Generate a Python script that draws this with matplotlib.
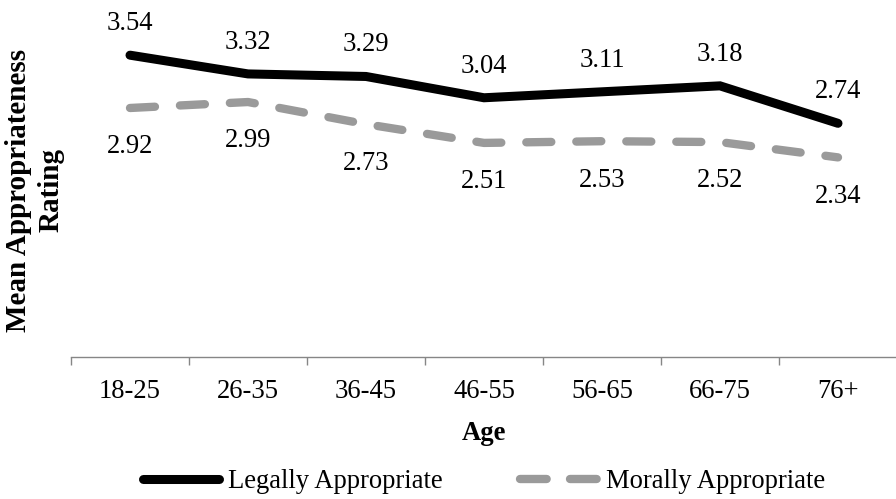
import matplotlib
matplotlib.use("Agg")
import matplotlib.pyplot as plt
from matplotlib.lines import Line2D

categories = ["18-25", "26-35", "36-45", "46-55", "56-65", "66-75", "76+"]
legally = [3.54, 3.32, 3.29, 3.04, 3.11, 3.18, 2.74]
morally = [2.92, 2.99, 2.73, 2.51, 2.53, 2.52, 2.34]
series_names = ["Legally Appropriate", "Morally Appropriate"]

plt.rcParams['font.family'] = ['Liberation Serif', 'DejaVu Serif']
FS = 19.2
GRAY = '#9a9a9a'

fig = plt.figure(figsize=(8.96, 4.99), dpi=100)
W, H = 896, 499
ax_left, ax_right = 71 / W, 897 / W
ax_bottom = (H - 356.7) / H
ax_top = (H - 16) / H
ax = fig.add_axes([ax_left, ax_bottom, ax_right - ax_left, ax_top - ax_bottom])

x = list(range(len(categories)))
l1, = ax.plot(x, legally, color='black', lw=6.5, solid_capstyle='round',
              solid_joinstyle='miter', clip_on=False)
l2, = ax.plot(x, morally, color=GRAY, lw=6, dash_capstyle='round',
              dash_joinstyle='round', clip_on=False)
l2.set_dashes((3.0, 3.0))

for xi, v in zip(x, legally):
    ax.annotate(f"{v:.2f}", (xi, v), xytext=(0, 18), textcoords='offset points',
                ha='center', va='baseline', fontsize=FS)
for xi, v in zip(x, morally):
    ax.annotate(f"{v:.2f}", (xi, v), xytext=(0, -19), textcoords='offset points',
                ha='center', va='top', fontsize=FS)

ax.set_xlim(-0.5, len(categories) - 0.5)
ax.set_ylim(0, 4)
for s in ['top', 'right', 'left']:
    ax.spines[s].set_visible(False)
ax.spines['bottom'].set_color('#868686')
ax.spines['bottom'].set_linewidth(1.0)
ax.set_yticks([])
ax.set_xticks(x)
ax.set_xticklabels(categories, fontsize=FS)
ax.set_xticks([i - 0.5 for i in range(len(categories) + 1)], minor=True)
ax.tick_params(axis='x', which='major', length=0, pad=16)
ax.tick_params(axis='x', which='minor', length=6, width=1.0, color='#868686', direction='out')

fig.text(484 / W, 1 - 433 / H, "Age", ha='center', va='center', fontsize=FS, fontweight='bold')
fig.text(35 / W, 1 - 190 / H, "Mean Appropriateness\nRating", ha='center', va='center',
         rotation=90, fontsize=21, fontweight='bold', multialignment='center', linespacing=1.25)

h1 = Line2D([], [], color='black', lw=6.5, solid_capstyle='round')
h2 = Line2D([], [], color=GRAY, lw=6, dash_capstyle='round')
h2.set_dashes((3.2, 2.8))
fig.legend([h1, h2], series_names, loc='center', bbox_to_anchor=(484 / W, 1 - 482 / H),
           ncol=2, frameon=False, fontsize=FS, handlelength=2.86, handletextpad=0.36,
           columnspacing=2.9, borderaxespad=0, borderpad=0)

fig.savefig("out.png", dpi=100)
